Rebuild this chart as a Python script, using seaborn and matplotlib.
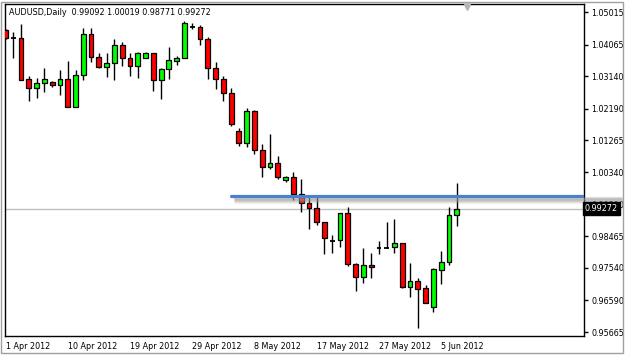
import numpy as np
import pandas as pd
import matplotlib.pyplot as plt
import seaborn as sns
from matplotlib.patches import Rectangle

symbol = "AUDUSD,Daily"

opens = [1.04489, 1.04241, 1.04247, 1.03057, 1.02786, 1.02932, 1.02978, 1.02882, 1.03057, 1.02248,
         1.03174, 1.04372, 1.03709, 1.03399, 1.03516, 1.04051, 1.03680, 1.03437, 1.03680, 1.03826,
         1.03028, 1.03341, 1.03592, 1.03680, 1.04585, 1.04568, 1.04217, 1.03370, 1.03049, 1.02657,
         1.01538, 1.01178, 1.02122, 1.00983, 1.00495, 1.00594, 1.00106, 1.00185, 0.99697, 0.99425,
         0.99279, 0.98888, 0.98338, 0.98353, 0.99133, 0.97643, 0.97263, 0.97622, 0.98128, 0.98128,
         0.98140, 0.98256, 0.96988, 0.97164, 0.96942, 0.96404, 0.97476, 0.97719, 0.99092]
highs = [1.04518, 1.04439, 1.04656, 1.03154, 1.03087, 1.03379, 1.03008, 1.03320, 1.03583, 1.03320,
         1.04539, 1.04539, 1.03808, 1.03808, 1.04217, 1.04147, 1.03808, 1.03855, 1.03855, 1.03830,
         1.03370, 1.03984, 1.03738, 1.04752, 1.04685, 1.04635, 1.04293, 1.03545, 1.03145, 1.02786,
         1.01617, 1.02219, 1.02151, 1.01158, 1.01450, 1.00816, 1.00223, 1.00331, 1.00135, 0.99618,
         0.99618, 0.98890, 0.98499, 0.99151, 0.99332, 0.97672, 0.98110, 0.97964, 0.98324, 0.98888,
         0.98958, 0.98274, 0.97690, 0.97234, 0.97038, 0.97526, 0.98040, 0.99326, 1.00019]
lows = [1.04226, 1.03662, 1.03020, 1.02423, 1.02502, 1.02686, 1.02815, 1.02590, 1.02240, 1.02240,
        1.03028, 1.03563, 1.03370, 1.03107, 1.03028, 1.03437, 1.03145, 1.03078, 1.03662, 1.02707,
        1.02464, 1.03049, 1.03466, 1.03675, 1.04509, 1.04051, 1.03049, 1.02756, 1.02414, 1.01693,
        1.01100, 1.01079, 1.00857, 1.00185, 1.00428, 1.00127, 1.00039, 0.99522, 0.99180, 0.98666,
        0.98791, 0.97935, 0.97982, 0.98140, 0.97593, 0.96877, 0.97088, 0.97234, 0.97935, 0.98120,
        0.97982, 0.96942, 0.96696, 0.95773, 0.96503, 0.96258, 0.97067, 0.97622, 0.98771]
closes = [1.04247, 1.04241, 1.03028, 1.02786, 1.02932, 1.03057, 1.02882, 1.03057, 1.02248, 1.03174,
          1.04372, 1.03709, 1.03399, 1.03516, 1.04051, 1.03680, 1.03446, 1.03808, 1.03826, 1.03028,
          1.03341, 1.03612, 1.03680, 1.04702, 1.04585, 1.04217, 1.03370, 1.03049, 1.02657, 1.01742,
          1.01196, 1.02122, 1.00983, 1.00495, 1.00594, 1.00185, 1.00203, 0.99697, 0.99425, 0.99279,
          0.98888, 0.98403, 0.98338, 0.99133, 0.97652, 0.97263, 0.97622, 0.97573, 0.98128, 0.98128,
          0.98256, 0.96988, 0.97164, 0.96912, 0.96521, 0.97497, 0.97719, 0.99083, 0.99272]

date_labels = ["1 Apr 2012", "10 Apr 2012", "19 Apr 2012", "29 Apr 2012",
               "8 May 2012", "17 May 2012", "27 May 2012", "5 Jun 2012"]
date_bars = [0, 8, 16, 24, 32, 40, 48, 56]
price_ticks = [1.05015, 1.04065, 1.03140, 1.02190, 1.01265, 1.00340,
               0.99390, 0.98465, 0.97540, 0.96590, 0.95665]
level_price = 0.99647
level_start = 29
last_price = 0.99272

sns.set_theme(style="white")
plt.rcParams['font.family'] = ['DejaVu Sans']
FS = 5.8

df = pd.DataFrame({"open": opens, "high": highs, "low": lows, "close": closes})
df["bar"] = np.arange(len(df))
up = df["close"] > df["open"]
down = df["close"] < df["open"]
flat = df["close"] == df["open"]

fig = plt.figure(figsize=(6.25, 3.55), dpi=100)
fig.patch.set_facecolor("white")
ax = fig.add_axes([4.5 / 625, 19.3 / 355, 579.5 / 625, 331.4 / 355])
ax.set_facecolor("white")

W = 0.62
ax.vlines(df["bar"], df["low"], df["high"], color="black", lw=1, zorder=4)
ax.bar(df["bar"][up], (df["close"] - df["open"])[up], bottom=df["open"][up], width=W,
       color="#00ff00", edgecolor="black", linewidth=0.9, zorder=5)
ax.bar(df["bar"][down], (df["open"] - df["close"])[down], bottom=df["close"][down], width=W,
       color="#ff0000", edgecolor="black", linewidth=0.9, zorder=5)
ax.hlines(df["close"][flat], df["bar"][flat] - W / 2, df["bar"][flat] + W / 2,
          color="black", lw=1.3, zorder=5)

# current price line
ax.axhline(last_price, color="#c0c0c0", lw=1, zorder=1)

# horizontal level with its shadow
xmax = 74.36
for k, (off, a) in enumerate([(0.0006, 0.35), (0.0009, 0.3), (0.0012, 0.25), (0.0015, 0.2), (0.0018, 0.12)]):
    ax.plot([level_start + 0.4, 79.3], [level_price - off, level_price - off], color="#9a9a9a",
            lw=2.2, alpha=a, solid_capstyle="butt", clip_on=False, zorder=6)
sns.lineplot(x=[level_start, xmax], y=[level_price, level_price], ax=ax, color="#4d80cc",
             lw=2.3, zorder=7)

ax.set_xlim(-0.13, xmax)
ax.set_ylim(0.95557, 1.05240)

ax.yaxis.tick_right()
ax.set_yticks(price_ticks, [f"{p:.5f}" for p in price_ticks])
ax.set_xticks(date_bars, date_labels)
for lbl in ax.get_xticklabels():
    lbl.set_ha("left")
ax.tick_params(axis="both", direction="out", length=3, width=1, color="black",
               labelsize=FS, labelcolor="black", pad=2)
ax.tick_params(axis="x", pad=1.5)
ax.tick_params(axis="y", pad=2.5)
for s in ax.spines.values():
    s.set_color("black")
    s.set_linewidth(1)
    s.set_visible(True)

ax.text(1.0015, last_price, f"{last_price:.5f}", transform=ax.get_yaxis_transform(),
        ha="left", va="center", fontsize=FS, color="white", zorder=8, clip_on=False,
        bbox=dict(boxstyle="square,pad=0.2", facecolor="black", edgecolor="black"))

ax.plot([0.798], [0.993], marker="v", markersize=4.5, color="#b5b5b5",
        transform=ax.transAxes, clip_on=False, zorder=8)

fig.text(9 / 625, 1 - 12.7 / 355,
         f"{symbol}  {opens[-1]:.5f} {highs[-1]:.5f} {lows[-1]:.5f} {closes[-1]:.5f}",
         ha="left", va="center", fontsize=FS, color="black")

fig.patches.append(Rectangle((1 / 625, 2 / 355), 621.5 / 625, 351.5 / 355, transform=fig.transFigure,
                             fill=False, edgecolor="#a0a0a0", lw=1))

fig.savefig("out.png", dpi=100, facecolor="white")
